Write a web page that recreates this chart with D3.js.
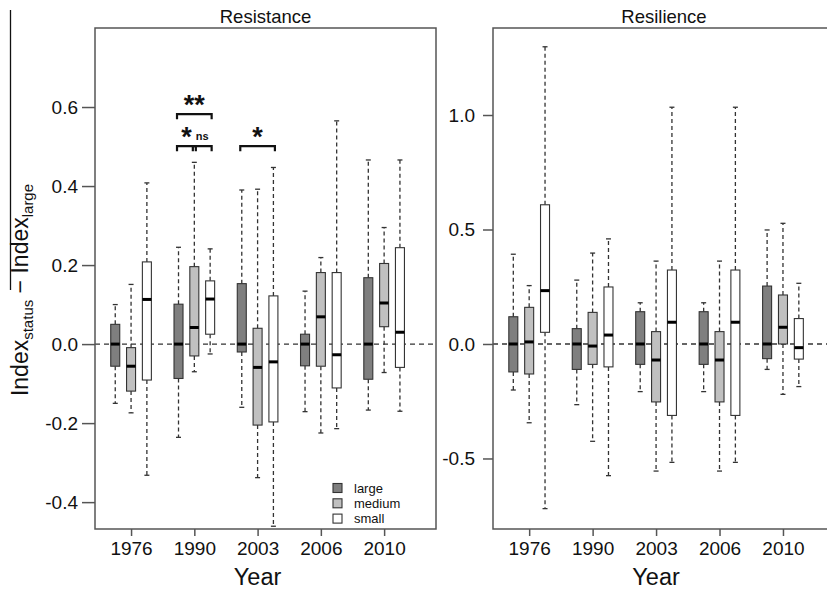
<!DOCTYPE html>
<html>
<head>
<meta charset="utf-8">
<script src="https://cdn.jsdelivr.net/npm/d3@7"></script>
<style>
  body { margin: 0; background: #fff; }
  svg { font-family: "Liberation Sans", Arial, sans-serif; }
</style>
</head>
<body>
<div id="chart"></div>
<script>
// years shown on both panels
const years = ["1976", "1990", "2003", "2006", "2010"];
const sizes = ["large", "medium", "small"];
const fills = { large: "#7f7f7f", medium: "#c0c0c0", small: "#ffffff" };

// [whiskerLow, q1, median, q3, whiskerHigh] per year, per size class
const resistLarge  = [[-0.150, -0.056, 0, 0.050, 0.100], [-0.236, -0.087, 0, 0.101, 0.245], [-0.160, -0.020, 0, 0.153, 0.390], [-0.171, -0.055, 0, 0.025, 0.134], [-0.167, -0.089, 0, 0.168, 0.466]];
const resistMedium = [[-0.174, -0.119, -0.056, -0.009, 0.151], [-0.070, -0.030, 0.042, 0.196, 0.460], [-0.338, -0.205, -0.059, 0.040, 0.392], [-0.225, -0.056, 0.069, 0.181, 0.219], [-0.072, 0.044, 0.104, 0.204, 0.295]];
const resistSmall  = [[-0.332, -0.091, 0.113, 0.208, 0.408], [-0.025, 0.025, 0.114, 0.160, 0.241], [-0.461, -0.197, -0.045, 0.122, 0.447], [-0.214, -0.111, -0.027, 0.181, 0.565], [-0.170, -0.059, 0.030, 0.244, 0.466]];

const resilLarge  = [[-0.201, -0.122, 0, 0.119, 0.392], [-0.265, -0.111, 0, 0.067, 0.279], [-0.208, -0.089, 0, 0.141, 0.180], [-0.208, -0.089, 0, 0.141, 0.180], [-0.111, -0.064, 0, 0.253, 0.498]];
const resilMedium = [[-0.344, -0.131, 0.009, 0.160, 0.255], [-0.425, -0.089, -0.009, 0.138, 0.397], [-0.555, -0.253, -0.070, 0.054, 0.362], [-0.555, -0.253, -0.070, 0.054, 0.362], [-0.220, 0, 0.073, 0.214, 0.527]];
const resilSmall  = [[-0.719, 0.051, 0.233, 0.608, 1.298], [-0.575, -0.100, 0.039, 0.249, 0.459], [-0.517, -0.312, 0.095, 0.323, 1.034], [-0.517, -0.312, 0.095, 0.323, 1.034], [-0.186, -0.066, -0.016, 0.111, 0.265]];

const resistTicks = [-0.4, -0.2, 0.0, 0.2, 0.4, 0.6];
const resilTicks = [-0.5, 0.0, 0.5, 1.0];

// significance brackets on the Resistance panel: year index, from/to size index, height, label
const sigBrackets = [
  { year: 1, from: 0, to: 2, level: 0.582, label: "**", big: true },
  { year: 1, from: 0, to: 1, level: 0.501, label: "*", big: true },
  { year: 1, from: 1, to: 2, level: 0.501, label: "ns", big: false },
  { year: 2, from: 0, to: 2, level: 0.501, label: "*", big: true }
];

const W = 827, H = 590;
const svg = d3.select("#chart").append("svg").attr("width", W).attr("height", H);

const plotTop = 28, plotBottom = 529;
const boxW = 9, offset = 0.25;

function panel(opts) {
  const x = d3.scaleLinear().domain([-0.57, 4.82]).range([opts.left, opts.right]);
  const y = d3.scaleLinear().domain(opts.yDomain).range([plotBottom, plotTop]);
  const g = svg.append("g");

  // zero reference line
  g.append("line")
    .attr("x1", opts.left).attr("x2", opts.right)
    .attr("y1", y(0)).attr("y2", y(0))
    .attr("stroke", "#333").attr("stroke-width", 1.4)
    .attr("stroke-dasharray", "5,4");

  const boxes = [];
  years.forEach((yr, i) => {
    sizes.forEach((s, k) => {
      boxes.push({ i, s, v: opts.data[s][i], cx: x(i + (k - 1) * offset) });
    });
  });

  const b = g.selectAll(".box").data(boxes).join("g").attr("class", "box");

  // whiskers
  b.append("line")
    .attr("x1", d => d.cx).attr("x2", d => d.cx)
    .attr("y1", d => y(d.v[3])).attr("y2", d => y(d.v[4]))
    .attr("stroke", "#333").attr("stroke-width", 1.3).attr("stroke-dasharray", "4,3");
  b.append("line")
    .attr("x1", d => d.cx).attr("x2", d => d.cx)
    .attr("y1", d => y(d.v[1])).attr("y2", d => y(d.v[0]))
    .attr("stroke", "#333").attr("stroke-width", 1.3).attr("stroke-dasharray", "4,3");
  // staples
  [0, 4].forEach(j => {
    b.append("line")
      .attr("x1", d => d.cx - 2.5).attr("x2", d => d.cx + 2.5)
      .attr("y1", d => y(d.v[j])).attr("y2", d => y(d.v[j]))
      .attr("stroke", "#333").attr("stroke-width", 1.3);
  });
  // box
  b.append("rect")
    .attr("x", d => d.cx - boxW / 2).attr("width", boxW)
    .attr("y", d => y(d.v[3])).attr("height", d => y(d.v[1]) - y(d.v[3]))
    .attr("fill", d => fills[d.s]).attr("stroke", "#333").attr("stroke-width", 1.1);
  // median
  b.append("line")
    .attr("x1", d => d.cx - boxW / 2).attr("x2", d => d.cx + boxW / 2)
    .attr("y1", d => y(d.v[2])).attr("y2", d => y(d.v[2]))
    .attr("stroke", "#000").attr("stroke-width", 3);

  // frame
  g.append("rect")
    .attr("x", opts.left).attr("y", plotTop)
    .attr("width", opts.right - opts.left).attr("height", plotBottom - plotTop)
    .attr("fill", "none").attr("stroke", "#555").attr("stroke-width", 1.5);

  // y axis
  const ya = g.append("g").attr("transform", `translate(${opts.left},0)`)
    .call(d3.axisLeft(y).tickValues(opts.ticks)
      .tickFormat(d => d3.format(".1f")(d).replace("\u2212", "-"))
      .tickSize(opts.tickLen).tickPadding(opts.tickPad));
  ya.select(".domain").remove();
  ya.selectAll("line").attr("stroke", "#555").attr("stroke-width", 1.5);
  ya.selectAll("text").attr("font-size", 19).attr("fill", "#111");

  // x axis
  const xa = g.append("g").attr("transform", `translate(0,${plotBottom})`)
    .call(d3.axisBottom(x).tickValues(d3.range(years.length)).tickFormat(i => years[i])
      .tickSize(7).tickPadding(6));
  xa.select(".domain").remove();
  xa.selectAll("line").attr("stroke", "#555").attr("stroke-width", 1.5);
  xa.selectAll("text").attr("font-size", 19).attr("fill", "#111");

  // title and x label
  const mid = (opts.left + opts.right) / 2;
  g.append("text").attr("x", mid).attr("y", 23).attr("text-anchor", "middle")
    .attr("font-size", 18.5).attr("fill", "#111").text(opts.title);
  g.append("text").attr("x", x(2)).attr("y", 585).attr("text-anchor", "middle")
    .attr("font-size", 23.5).attr("fill", "#111").text("Year");

  return { g, x, y };
}

const left = panel({
  left: 95, right: 436, yDomain: [-0.468, 0.8], ticks: resistTicks, tickLen: 13, tickPad: 4,
  title: "Resistance",
  data: { large: resistLarge, medium: resistMedium, small: resistSmall }
});

panel({
  left: 493, right: 835, yDomain: [-0.808, 1.38], ticks: resilTicks, tickLen: 10, tickPad: 8,
  title: "Resilience",
  data: { large: resilLarge, medium: resilMedium, small: resilSmall }
});

// significance brackets
sigBrackets.forEach(s => {
  const x1 = left.x(s.year + (s.from - 1) * offset) - 1.5;
  const x2 = left.x(s.year + (s.to - 1) * offset) + 1.5;
  const yy = left.y(s.level);
  left.g.append("path")
    .attr("d", `M${x1},${yy + 5}V${yy}H${x2}V${yy + 5}`)
    .attr("fill", "none").attr("stroke", "#111").attr("stroke-width", 2.2);
  left.g.append("text")
    .attr("x", (x1 + x2) / 2).attr("y", s.big ? yy : yy - 6)
    .attr("text-anchor", "middle")
    .attr("font-size", s.big ? 27 : 11).attr("font-weight", "bold").attr("fill", "#111")
    .text(s.label);
});

// legend
const lg = left.g.append("g").attr("transform", "translate(333,488)");
sizes.forEach((s, k) => {
  const row = lg.append("g").attr("transform", `translate(0,${k * 15.3})`);
  row.append("rect").attr("x", 0).attr("y", -4.5).attr("width", 9).attr("height", 9)
    .attr("fill", fills[s]).attr("stroke", "#333").attr("stroke-width", 1.1);
  row.append("text").attr("x", 21).attr("y", 4.5).attr("font-size", 13).attr("fill", "#111").text(s);
});

// y axis label
const yl = svg.append("text").attr("transform", "translate(28,290) rotate(-90)")
  .attr("text-anchor", "middle").attr("font-size", 23).attr("fill", "#111");
yl.append("tspan").text("Index");
yl.append("tspan").attr("font-size", 15).attr("dy", 5).text("status");
yl.append("tspan").attr("dy", -5).text(" \u2212 Index");
yl.append("tspan").attr("font-size", 15).attr("dy", 5).text("large");
svg.append("line").attr("x1", 10.5).attr("x2", 10.5).attr("y1", 10).attr("y2", 290)
  .attr("stroke", "#111").attr("stroke-width", 1.3);
</script>
</body>
</html>
